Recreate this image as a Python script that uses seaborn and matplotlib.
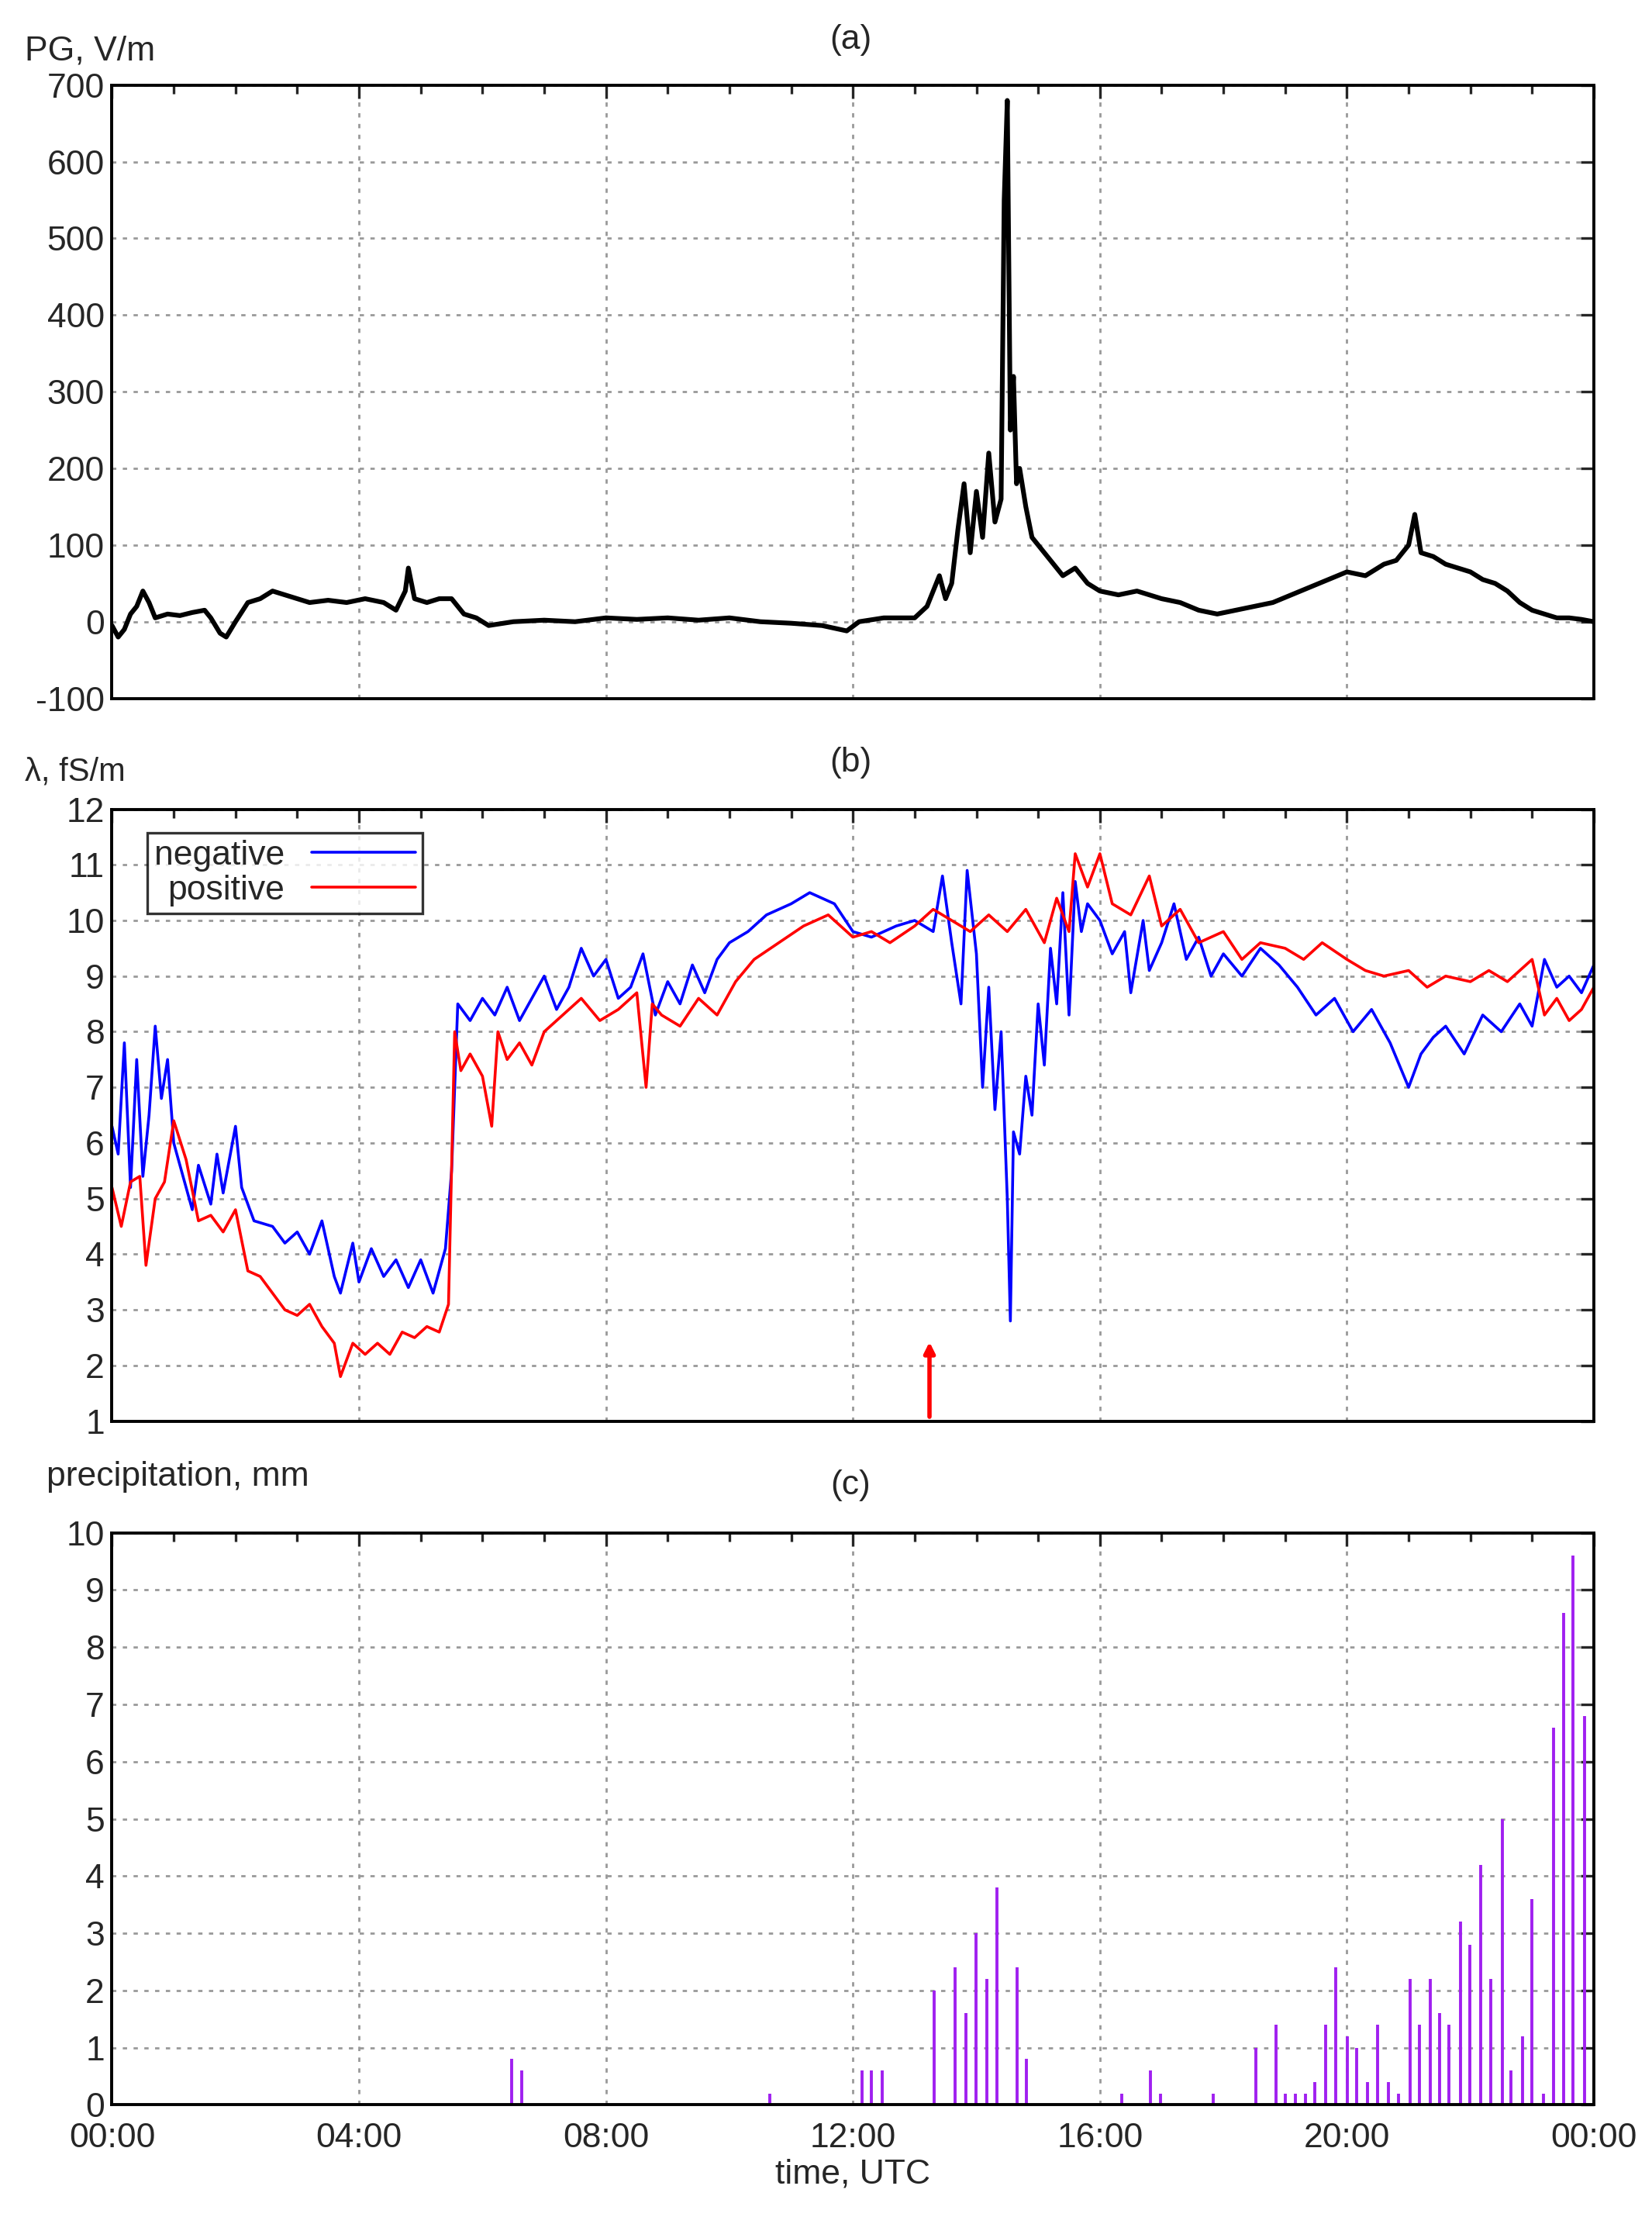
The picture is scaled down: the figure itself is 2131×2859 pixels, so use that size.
import matplotlib
matplotlib.use("Agg")
import matplotlib.pyplot as plt
import numpy as np
import pandas as pd
import seaborn as sns

sns.set_style("white")
plt.rcParams["font.family"] = ["Liberation Sans", "DejaVu Sans"]
plt.rcParams["axes.unicode_minus"] = False

# ---- panel (a): potential gradient, V/m ----
pg_t = [0.0, 0.1, 0.2, 0.3, 0.4, 0.5, 0.6, 0.7, 0.9, 1.1, 1.3, 1.5, 1.6, 1.75, 1.85, 2.0,
        2.2, 2.4, 2.6, 2.8, 3.0, 3.2, 3.5, 3.8, 4.1, 4.4, 4.6, 4.75, 4.8, 4.9, 5.1, 5.3,
        5.5, 5.7, 5.9, 6.1, 6.5, 7.0, 7.5, 8.0, 8.5, 9.0, 9.5, 10.0, 10.5, 11.0, 11.5,
        11.9, 12.1, 12.5, 13.0, 13.2, 13.4, 13.5, 13.6, 13.7, 13.8, 13.9, 14.0, 14.1,
        14.2, 14.3, 14.4, 14.45, 14.5, 14.55, 14.6, 14.65, 14.7, 14.8, 14.9, 15.0, 15.2,
        15.4, 15.6, 15.8, 16.0, 16.3, 16.6, 17.0, 17.3, 17.6, 17.9, 18.2, 18.5, 18.8,
        19.1, 19.4, 19.7, 20.0, 20.3, 20.6, 20.8, 21.0, 21.1, 21.2, 21.4, 21.6, 21.8,
        22.0, 22.2, 22.4, 22.6, 22.8, 23.0, 23.2, 23.4, 23.6, 23.8, 24.0]
pg_v = [-5, -20, -10, 10, 20, 40, 25, 5, 10, 8, 12, 15, 5, -15, -20, 0,
        25, 30, 40, 35, 30, 25, 28, 25, 30, 25, 15, 40, 70, 30, 25, 30,
        30, 10, 5, -5, 0, 2, 0, 5, 3, 5, 2, 5, 0, -2, -5,
        -12, 0, 5, 5, 20, 60, 30, 50, 120, 180, 90, 170, 110, 220, 130, 160, 550,
        680, 250, 320, 180, 200, 150, 110, 100, 80, 60, 70, 50, 40, 35, 40, 30, 25,
        15, 10, 15, 20, 25, 35, 45, 55, 65, 60, 75, 80, 100, 140, 90, 85, 75, 70,
        65, 55, 50, 40, 25, 15, 10, 5, 5, 3, 0]

# ---- panel (b): polar conductivities, fS/m ----
neg_t = [0.0, 0.1, 0.2, 0.3, 0.4, 0.5, 0.6, 0.7, 0.8, 0.9, 1.0, 1.1, 1.3, 1.4, 1.6, 1.7,
         1.8, 2.0, 2.1, 2.3, 2.6, 2.8, 3.0, 3.2, 3.4, 3.6, 3.7, 3.9, 4.0, 4.2, 4.4, 4.6,
         4.8, 5.0, 5.2, 5.4, 5.5, 5.6, 5.8, 6.0, 6.2, 6.4, 6.6, 6.8, 7.0, 7.2, 7.4, 7.6,
         7.8, 8.0, 8.2, 8.4, 8.6, 8.8, 9.0, 9.2, 9.4, 9.6, 9.8, 10.0, 10.3, 10.6, 11.0,
         11.3, 11.7, 12.0, 12.3, 12.7, 13.0, 13.3, 13.45, 13.6, 13.75, 13.85, 14.0, 14.1,
         14.2, 14.3, 14.4, 14.5, 14.55, 14.6, 14.7, 14.8, 14.9, 15.0, 15.1, 15.2, 15.3,
         15.4, 15.5, 15.6, 15.7, 15.8, 16.0, 16.2, 16.4, 16.5, 16.7, 16.8, 17.0, 17.2,
         17.4, 17.6, 17.8, 18.0, 18.3, 18.6, 18.9, 19.2, 19.5, 19.8, 20.1, 20.4, 20.7,
         21.0, 21.2, 21.4, 21.6, 21.9, 22.2, 22.5, 22.8, 23.0, 23.2, 23.4, 23.6, 23.8, 24.0]
neg_v = [6.3, 5.8, 7.8, 5.2, 7.5, 5.4, 6.5, 8.1, 6.8, 7.5, 6.0, 5.6, 4.8, 5.6, 4.9, 5.8,
         5.1, 6.3, 5.2, 4.6, 4.5, 4.2, 4.4, 4.0, 4.6, 3.6, 3.3, 4.2, 3.5, 4.1, 3.6, 3.9,
         3.4, 3.9, 3.3, 4.1, 5.5, 8.5, 8.2, 8.6, 8.3, 8.8, 8.2, 8.6, 9.0, 8.4, 8.8, 9.5,
         9.0, 9.3, 8.6, 8.8, 9.4, 8.3, 8.9, 8.5, 9.2, 8.7, 9.3, 9.6, 9.8, 10.1, 10.3,
         10.5, 10.3, 9.8, 9.7, 9.9, 10.0, 9.8, 10.8, 9.6, 8.5, 10.9, 9.4, 7.0, 8.8, 6.6,
         8.0, 5.0, 2.8, 6.2, 5.8, 7.2, 6.5, 8.5, 7.4, 9.5, 8.5, 10.5, 8.3, 10.7, 9.8,
         10.3, 10.0, 9.4, 9.8, 8.7, 10.0, 9.1, 9.6, 10.3, 9.3, 9.7, 9.0, 9.4, 9.0, 9.5,
         9.2, 8.8, 8.3, 8.6, 8.0, 8.4, 7.8, 7.0, 7.6, 7.9, 8.1, 7.6, 8.3, 8.0, 8.5, 8.1,
         9.3, 8.8, 9.0, 8.7, 9.2]

pos_t = [0.0, 0.15, 0.3, 0.45, 0.55, 0.7, 0.85, 1.0, 1.2, 1.4, 1.6, 1.8, 2.0, 2.2, 2.4,
         2.6, 2.8, 3.0, 3.2, 3.4, 3.6, 3.7, 3.9, 4.1, 4.3, 4.5, 4.7, 4.9, 5.1, 5.3, 5.45,
         5.55, 5.65, 5.8, 6.0, 6.15, 6.25, 6.4, 6.6, 6.8, 7.0, 7.3, 7.6, 7.9, 8.2, 8.5,
         8.65, 8.75, 8.9, 9.2, 9.5, 9.8, 10.1, 10.4, 10.8, 11.2, 11.6, 12.0, 12.3, 12.6,
         13.0, 13.3, 13.6, 13.9, 14.2, 14.5, 14.8, 15.1, 15.3, 15.5, 15.6, 15.8, 16.0,
         16.2, 16.5, 16.8, 17.0, 17.3, 17.6, 18.0, 18.3, 18.6, 19.0, 19.3, 19.6, 20.0,
         20.3, 20.6, 21.0, 21.3, 21.6, 22.0, 22.3, 22.6, 23.0, 23.2, 23.4, 23.6, 23.8, 24.0]
pos_v = [5.2, 4.5, 5.3, 5.4, 3.8, 5.0, 5.3, 6.4, 5.7, 4.6, 4.7, 4.4, 4.8, 3.7, 3.6,
         3.3, 3.0, 2.9, 3.1, 2.7, 2.4, 1.8, 2.4, 2.2, 2.4, 2.2, 2.6, 2.5, 2.7, 2.6, 3.1,
         8.0, 7.3, 7.6, 7.2, 6.3, 8.0, 7.5, 7.8, 7.4, 8.0, 8.3, 8.6, 8.2, 8.4, 8.7,
         7.0, 8.5, 8.3, 8.1, 8.6, 8.3, 8.9, 9.3, 9.6, 9.9, 10.1, 9.7, 9.8, 9.6,
         9.9, 10.2, 10.0, 9.8, 10.1, 9.8, 10.2, 9.6, 10.4, 9.8, 11.2, 10.6, 11.2,
         10.3, 10.1, 10.8, 9.9, 10.2, 9.6, 9.8, 9.3, 9.6, 9.5, 9.3, 9.6, 9.3,
         9.1, 9.0, 9.1, 8.8, 9.0, 8.9, 9.1, 8.9, 9.3, 8.3, 8.6, 8.2, 8.4, 8.8]

arrow_t = 13.24

# ---- panel (c): precipitation, mm ----
rain_t = [6.47, 6.63, 10.65, 12.15, 12.3, 12.48, 13.32, 13.65, 13.83, 13.99, 14.17, 14.33,
          14.66, 14.81, 16.35, 16.82, 16.98, 17.84, 18.52, 18.85, 19.0, 19.17, 19.33,
          19.48, 19.66, 19.82, 20.01, 20.16, 20.34, 20.5, 20.67, 20.84, 21.03, 21.17,
          21.35, 21.5, 21.65, 21.84, 21.99, 22.17, 22.33, 22.52, 22.66, 22.85, 23.0,
          23.18, 23.35, 23.51, 23.66, 23.85]
rain_v = [0.8, 0.6, 0.2, 0.6, 0.6, 0.6, 2.0, 2.4, 1.6, 3.0, 2.2, 3.8,
          2.4, 0.8, 0.2, 0.6, 0.2, 0.2, 1.0, 1.4, 0.2, 0.2, 0.2,
          0.4, 1.4, 2.4, 1.2, 1.0, 0.4, 1.4, 0.4, 0.2, 2.2, 1.4,
          2.2, 1.6, 1.4, 3.2, 2.8, 4.2, 2.2, 5.0, 0.6, 1.2, 3.6,
          0.2, 6.6, 8.6, 9.6, 6.8]

fig = plt.figure(figsize=(10.655, 14.295), dpi=200)
L, W = 0.0678, 0.897
ax_a = fig.add_axes([L, 0.685, W, 0.2766])
ax_b = fig.add_axes([L, 0.359, W, 0.276])
ax_c = fig.add_axes([L, 0.0506, W, 0.258])

sns.lineplot(x=pg_t, y=pg_v, ax=ax_a, color="black", lw=2.2, estimator=None, sort=False)
sns.lineplot(x=neg_t, y=neg_v, ax=ax_b, color="#0000ff", lw=1.3, estimator=None,
             sort=False, label="negative")
sns.lineplot(x=pos_t, y=pos_v, ax=ax_b, color="#ff0000", lw=1.3, estimator=None,
             sort=False, label="positive")
ax_b.annotate("", xy=(arrow_t, 2.5), xytext=(arrow_t, 1.0),
              arrowprops=dict(arrowstyle="-|>", color="red", lw=2, mutation_scale=10))
ax_c.vlines(rain_t, 0, rain_v, color="#a020f0", lw=1.4)

fs = 16
hours = np.arange(0, 25, 4)
for ax in (ax_a, ax_b, ax_c):
    ax.set_xlim(0, 24)
    ax.set_xticks(hours)
    ax.set_xticks(np.arange(0, 25, 1), minor=True)
    ax.grid(True, color="#999999", ls=(0, (2, 3)), lw=1)
    ax.tick_params(which="both", direction="in", top=True, right=True, labelsize=fs,
                   length=6, width=1.2)
    ax.tick_params(which="minor", length=4)
    for s in ax.spines.values():
        s.set_linewidth(1.4)
        s.set_color("black")
    ax.set_xticklabels([])

ax_a.set_ylim(-100, 700)
ax_a.set_yticks(range(-100, 701, 100))
ax_b.set_ylim(1, 12)
ax_b.set_yticks(range(1, 13))
ax_c.set_ylim(0, 10)
ax_c.set_yticks(range(0, 11))
ax_c.set_xticklabels(["00:00", "04:00", "08:00", "12:00", "16:00", "20:00", "00:00"])
ax_c.tick_params(axis="x", pad=8)
ax_c.set_xlabel("time, UTC", fontsize=fs, labelpad=2)

fig.text(0.015, 0.973, "PG, V/m", fontsize=fs)
fig.text(0.015, 0.648, "λ, fS/m", fontsize=fs - 1)
fig.text(0.028, 0.330, "precipitation, mm", fontsize=fs)
for y, lab in [(0.982, "(a)"), (0.656, "(b)"), (0.330, "(c)")]:
    fig.text(0.515, y, lab, fontsize=fs, ha="center", va="center")

leg = ax_b.legend(loc="upper left", fontsize=fs, frameon=True, fancybox=False,
                  markerfirst=False, handlelength=3, borderpad=0.2, labelspacing=0.1,
                  bbox_to_anchor=(0.012, 0.99))
leg.get_frame().set_edgecolor("black")
leg.get_frame().set_linewidth(1.2)

fig.savefig("out.png", dpi=200, facecolor="white")
